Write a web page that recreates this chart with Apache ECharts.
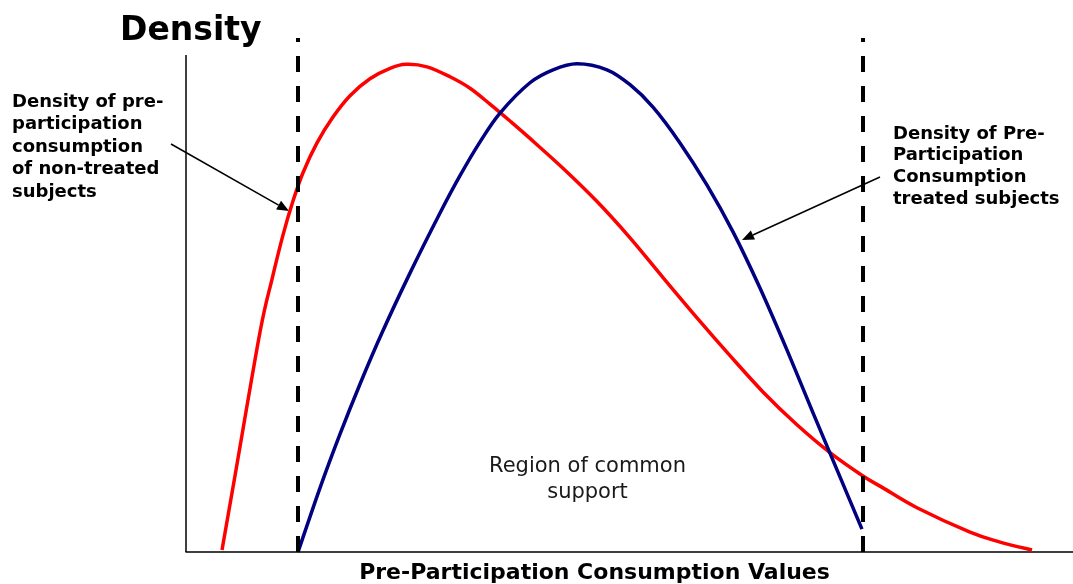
<!DOCTYPE html>
<html>
<head>
<meta charset="utf-8">
<script src="https://cdn.jsdelivr.net/npm/echarts@6/dist/echarts.min.js"></script>
<style>
  html, body { margin: 0; padding: 0; background: #fff; }
  #chart { width: 1073px; height: 584px; }
</style>
</head>
<body>
<div id="chart"></div>
<script>
// non-treated subjects (red)
const redX = [4.06, 5.52, 8.34, 9.70, 10.94, 12.06, 13.19, 14.77, 16.57, 18.49, 20.74, 23.00, 24.80, 27.17, 29.76, 32.02, 34.27, 36.53, 38.78, 42.50, 46.34, 50.06, 53.78, 57.61, 61.33, 65.05, 68.88, 72.60, 76.32, 78.58, 82.41, 88.39, 91.77, 95.38]
const redY = [0.4, 15.3, 44.2, 54.9, 63.8, 70.6, 76.3, 82.3, 87.5, 91.8, 95.2, 97.3, 98.1, 97.6, 95.6, 93.3, 90.1, 86.7, 83.2, 77.2, 70.5, 63.2, 55.2, 47.1, 39.5, 32.2, 25.6, 20.0, 15.3, 12.9, 8.9, 4.0, 2.0, 0.4]

// treated subjects (blue)
const blueX = [12.63, 15.11, 17.36, 19.62, 22.10, 25.25, 28.64, 30.89, 33.15, 35.40, 38.78, 41.38, 44.08, 47.46, 50.06, 52.65, 55.69, 58.74, 61.67, 64.71, 67.76, 70.69, 73.73, 76.21]
const blueY = [0, 12.9, 23.7, 33.8, 44.1, 56.1, 68.2, 75.7, 82.5, 88.3, 94.4, 97.0, 98.2, 97.0, 94.0, 89.5, 82.3, 73.8, 64.4, 53.1, 40.6, 28.0, 15.1, 4.6]

// common support bounds
const supportBounds = [12.63, 76.32]

const yAxisTop = 100
const yMax = 103.4

const chart = echarts.init(document.getElementById('chart'))

const pairs = (xs, ys) => xs.map((x, i) => [x, ys[i]])

// catmull-rom through the points -> bezier path
const splinePath = (pts) => {
  let d = 'M' + pts[0][0] + ' ' + pts[0][1]
  for (let i = 0; i < pts.length - 1; i++) {
    const p0 = pts[i - 1] || pts[i]
    const p1 = pts[i]
    const p2 = pts[i + 1]
    const p3 = pts[i + 2] || p2
    const c1x = p1[0] + (p2[0] - p0[0]) / 6
    const c1y = p1[1] + (p2[1] - p0[1]) / 6
    const c2x = p2[0] - (p3[0] - p1[0]) / 6
    const c2y = p2[1] - (p3[1] - p1[1]) / 6
    d += ' C' + c1x + ' ' + c1y + ' ' + c2x + ' ' + c2y + ' ' + p2[0] + ' ' + p2[1]
  }
  return d
}

const curveSeries = (name, data, color) => ({
  name: name,
  type: 'custom',
  data: data,
  encode: { x: 0, y: 1 },
  clip: false,
  z: 3,
  renderItem: (params, api) => {
    if (params.dataIndex !== 0) return null
    const pts = data.map(d => api.coord(d))
    return {
      type: 'path',
      shape: { pathData: splinePath(pts) },
      style: { fill: 'none', stroke: color, lineWidth: 3.5 }
    }
  }
})

// arrow helper (annotation)
const arrow = (x1, y1, x2, y2) => {
  const dx = x2 - x1, dy = y2 - y1
  const L = Math.hypot(dx, dy)
  const ux = dx / L, uy = dy / L
  const h = 12, w = 5
  const bx = x2 - ux * h, by = y2 - uy * h
  return [
    { type: 'line', silent: true, shape: { x1: x1, y1: y1, x2: bx, y2: by }, style: { stroke: '#000', lineWidth: 1.5 } },
    { type: 'polygon', silent: true, shape: { points: [[x2, y2], [bx - uy * w, by + ux * w], [bx + uy * w, by - ux * w]] }, style: { fill: '#000' } }
  ]
}

const boldFont = 'bold 18px "DejaVu Sans"'

const option = {
  backgroundColor: '#fff',
  animation: false,
  grid: { left: 186, right: 0, top: 38, bottom: 32 },
  xAxis: {
    type: 'value',
    min: 0,
    max: 100,
    axisLine: { show: true, lineStyle: { color: '#000', width: 1.5 } },
    axisTick: { show: false },
    axisLabel: { show: false },
    splitLine: { show: false }
  },
  yAxis: {
    type: 'value',
    min: 0,
    max: yMax,
    axisLine: { show: false },
    axisTick: { show: false },
    axisLabel: { show: false },
    splitLine: { show: false }
  },
  series: [
    {
      name: 'guides',
      type: 'line',
      data: supportBounds.map(v => [v, 0]),
      showSymbol: false,
      lineStyle: { opacity: 0 },
      z: 2,
      markLine: {
        silent: true,
        symbol: ['none', 'none'],
        label: { show: false },
        data: [
          [
            { coord: [0, 0], lineStyle: { color: '#000', width: 1.5, type: 'solid' } },
            { coord: [0, yAxisTop] }
          ],
          ...supportBounds.map(v => ({ xAxis: v, lineStyle: { color: '#000', width: 4, type: [16, 14] } }))
        ]
      }
    },
    curveSeries('non-treated', pairs(redX, redY), '#ff0000'),
    curveSeries('treated', pairs(blueX, blueY), '#000080')
  ],
  graphic: [
    {
      type: 'text', x: 120, y: 31,
      style: { text: 'Density', font: 'bold 33px "DejaVu Sans"', fill: '#000', textVerticalAlign: 'middle' }
    },
    {
      type: 'text', x: 12, y: 91,
      style: {
        text: 'Density of pre-\nparticipation\nconsumption\nof non-treated\nsubjects',
        font: boldFont, lineHeight: 22.5, fill: '#000'
      }
    },
    {
      type: 'text', x: 893, y: 123,
      style: {
        text: 'Density of Pre-\nParticipation\nConsumption\ntreated subjects',
        font: boldFont, lineHeight: 21.7, fill: '#000'
      }
    },
    {
      type: 'text', x: 587.5, y: 454,
      style: {
        text: 'Region of common\nsupport',
        font: '21px "DejaVu Sans"', lineHeight: 26, fill: '#1a1a1a', textAlign: 'center'
      }
    },
    {
      type: 'text', x: 594.5, y: 573,
      style: {
        text: 'Pre-Participation Consumption Values',
        font: 'bold 22px "DejaVu Sans"', fill: '#000', textAlign: 'center', textVerticalAlign: 'middle'
      }
    },
    ...arrow(171, 144, 289, 211),
    ...arrow(880, 177, 742, 240)
  ]
}

chart.setOption(option)
</script>
</body>
</html>
